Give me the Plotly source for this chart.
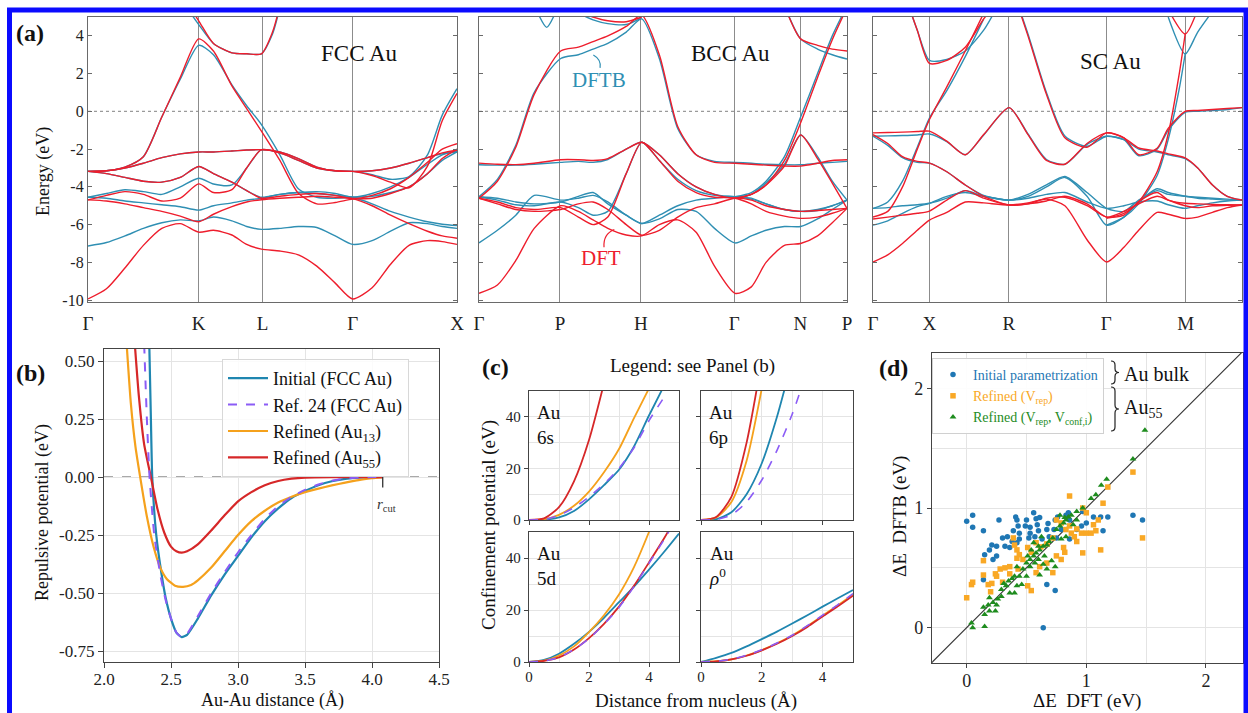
import plotly.graph_objects as go

W, H = 1248, 713
FONT = "Liberation Serif, Times New Roman, serif"


def fx(p):
    return p / W


def fy(p):
    return 1 - p / H


# ---------------- colours ----------------
DFT_RED = "#ee1d2c"
DFTB_BLUE = "#2f8fb3"
C_INIT = "#1f86b0"
C_REF = "#8b5cf6"
C_AU13 = "#f5a11c"
C_AU55 = "#d62728"
D_BLUE = "#1f77b4"
D_ORANGE = "#f9a825"
D_GREEN = "#1e8c1e"
FRAME_A = "#6a6a6a"
FRAME = "#444444"
GRID = "#e4e4e4"

# ---------------- panel (a): band structures ----------------
fcc_sym = [0, 0.2997, 0.4727, 0.7174, 1.0]
fcc_lab = ["Γ", "K", "L", "Γ", "X"]
fcc_k = [0, .05, .10, .15, .20, .25, .30, .34, .39, .43, .47, .52, .57, .62, .67, .717, .77, .82, .87, .92, .96, 1.0]
fcc_dft = [
    [-9.94, -9.4, -8.3, -7.1, -6.2, -5.95, -6.4, -6.3, -6.55, -7.05, -7.3, -7.4, -7.6, -8.2, -9.1, -9.94, -9.35, -8.1, -7.1, -6.85, -6.9, -7.05],
    [-4.69, -4.75, -4.9, -5.1, -5.3, -5.55, -5.85, -5.45, -5.05, -4.8, -4.68, -4.6, -4.55, -4.5, -4.55, -4.62, -5.0, -5.5, -5.95, -6.35, -6.6, -6.72],
    [-4.69, -4.45, -4.25, -4.4, -4.75, -4.6, -3.84, -4.3, -4.15, -3.0, -2.03, -2.2, -2.6, -3.0, -3.15, -3.18, -3.15, -3.0, -2.75, -2.45, -2.2, -2.06],
    [-3.18, -3.3, -3.5, -3.7, -3.75, -3.5, -2.92, -3.3, -3.75, -4.2, -4.6, -4.5, -4.4, -4.35, -4.45, -4.62, -4.45, -4.1, -3.5, -2.7, -2.0, -1.71],
    [-3.18, -3.15, -3.0, -2.75, -2.45, -2.25, -2.15, -2.15, -2.1, -2.05, -2.03, -2.15, -2.5, -2.95, -3.15, -3.18, -3.4, -3.75, -4.05, -2.9, -0.5, 0.95],
    [-3.18, -3.15, -2.95, -2.4, -0.3, 1.8, 3.84, 3.2, 1.35, 0.15, -1.05, -2.6, -4.34, -4.9, -4.83, -4.65, -4.6, -4.35, -4.0, -3.3, -2.5, -2.0],
]
fcc_dftb = [
    [-7.13, -6.95, -6.6, -6.2, -5.9, -5.75, -5.8, -5.6, -5.8, -6.1, -6.25, -6.2, -6.1, -6.15, -6.6, -7.05, -6.85, -6.35, -5.9, -5.95, -6.1, -6.2],
    [-4.55, -4.6, -4.75, -4.85, -4.95, -5.05, -5.23, -5.0, -4.85, -4.7, -4.6, -4.4, -4.3, -4.35, -4.45, -4.55, -4.9, -5.3, -5.6, -5.85, -5.98, -6.05],
    [-4.55, -4.35, -4.15, -4.25, -4.4, -4.0, -3.54, -3.85, -3.9, -3.0, -2.03, -2.2, -2.6, -3.0, -3.15, -3.18, -3.15, -3.0, -2.75, -2.45, -2.25, -2.15],
    [-3.18, -3.3, -3.5, -3.7, -3.75, -3.5, -2.92, -3.3, -3.75, -4.2, -4.55, -4.4, -4.3, -4.25, -4.35, -4.55, -4.35, -4.0, -3.5, -2.8, -2.3, -2.1],
    [-3.18, -3.15, -3.0, -2.75, -2.45, -2.25, -2.15, -2.15, -2.1, -2.05, -2.03, -2.15, -2.5, -2.95, -3.15, -3.18, -3.35, -3.6, -3.45, -2.3, -0.2, 1.2],
    [-3.18, -3.15, -2.95, -2.4, -0.3, 1.7, 3.5, 3.0, 1.4, 0.3, -0.7, -2.3, -4.1, -4.55, -4.6, -4.55, -4.5, -4.3, -4.0, -3.3, -2.6, -2.15],
]
fcc_up_k = [[0.25, 0.30, 0.34, 0.39, 0.43, 0.47, 0.50, 0.52]]
fcc_up_dft = [[6.3, 4.8, 3.6, 3.1, 3.05, 3.05, 4.2, 5.6]]
fcc_up_dftb = [[6.0, 4.6, 3.6, 3.1, 3.05, 3.05, 4.1, 5.5]]

bcc_sym = [0, 0.2199, 0.4398, 0.6937, 0.8731, 1.0]
bcc_lab = ["Γ", "P", "H", "Γ", "N", "P"]
bcc_k = [0, .05, .10, .15, .222, .27, .31, .35, .40, .442, .49, .54, .59, .64, .696, .74, .78, .83, .874, .92, .96, 1.0]
N14 = [None] * 14
bcc_dft = [
    [-9.64, -9.2, -7.9, -6.2, -5.0, -5.3, -5.75, -6.2, -6.55, -6.6, -6.0, -5.75, -6.4, -8.2, -9.64, -9.3, -8.0, -7.1, -7.0, -6.6, -5.9, -5.14],
    [-4.6, -3.7, -1.9, 0.9, 3.2, 3.4, 3.7, 4.0, 4.5, 5.1, 3.0, -0.8, -2.3, -2.7, -2.75, -2.8, -2.85, -2.9, -2.9, -2.75, -2.6, -2.56],
    [-2.74, -2.8, -2.82, -2.75, -2.56, -2.56, -2.6, -2.5, -2.0, -1.64, -2.3, -3.3, -4.0, -4.4, -4.6, -4.4, -3.9, -2.9, -1.25, -2.5, -3.8, -5.14],
    [-4.6, -4.8, -5.1, -5.2, -5.1, -5.6, -6.0, -5.6, -3.3, -1.64, -2.6, -3.7, -4.3, -4.55, -4.6, -4.9, -5.3, -5.55, -5.67, -5.6, -5.4, -5.14],
    [-4.6, -4.9, -5.2, -5.3, -5.2, -4.9, -4.8, -5.2, -6.0, -6.56, -6.3, -5.6, -5.1, -4.9, -4.6, -4.7, -5.0, -5.2, -5.3, -5.25, -5.2, -5.14],
    N14 + [-4.6, -4.4, -3.9, -2.6, -0.6, 1.8, 3.8, 5.5],
]
bcc_dftb = [
    [-6.97, -6.3, -5.5, -4.45, -4.7, -4.6, -4.45, -4.8, -5.5, -5.94, -5.7, -5.2, -5.3, -6.2, -6.97, -6.6, -6.3, -6.1, -6.1, -5.7, -5.2, -4.7],
    [-4.52, -3.6, -1.8, 1.0, 2.8, 3.0, 3.3, 3.6, 4.2, 4.9, 2.8, -0.9, -2.3, -2.65, -2.7, -2.75, -2.8, -2.83, -2.83, -2.75, -2.7, -2.65],
    [-2.83, -2.85, -2.85, -2.8, -2.7, -2.65, -2.7, -2.55, -2.0, -1.64, -2.3, -3.3, -4.0, -4.4, -4.52, -4.4, -3.8, -2.8, -1.25, -2.4, -3.7, -4.7],
    [-4.52, -4.7, -4.95, -5.0, -4.8, -5.1, -5.5, -5.3, -3.3, -1.64, -2.6, -3.6, -4.2, -4.45, -4.52, -4.6, -4.9, -5.2, -5.3, -5.2, -5.0, -4.7],
    [-4.52, -4.6, -4.8, -4.9, -4.8, -4.5, -4.3, -4.9, -5.5, -5.94, -5.5, -5.0, -4.7, -4.6, -4.52, -4.65, -4.9, -5.2, -5.3, -5.25, -5.0, -4.7],
    N14 + [-4.52, -4.3, -3.7, -2.4, -0.3, 2.0, 4.0, 5.6],
]
bcc_up_k = [[.83, .874, .92, .96, 1.0], [.27, .31, .35, .40, .442], [.16, .184, .207]]
bcc_up_dft = [[5.6, 3.84, 3.5, 3.3, 3.2], [5.3, 5.0, 4.8, 4.75, 5.0], [None, None, None]]
bcc_up_dftb = [[5.6, 3.84, 3.3, 3.0, 2.77], [5.2, 4.85, 4.65, 4.6, 4.95], [5.2, 4.45, 5.2]]

sc_sym = [0, 0.1524, 0.3680, 0.6320, 0.8476, 1.0]
sc_lab = ["Γ", "X", "R", "Γ", "M", "R"]
sc_k = [0, .04, .08, .12, .153, .20, .25, .30, .369, .42, .47, .52, .58, .633, .68, .72, .77, .80, .846, .88, .92, .96, 1.0]
N8 = [None] * 8
N15 = [None] * 15
sc_dft = [
    [-7.98, -7.6, -7.0, -6.3, -5.76, -5.35, -4.8, -4.85, -4.96, -4.85, -4.65, -5.0, -6.8, -7.98, -7.2, -6.3, -5.35, -5.45, -5.67, -5.6, -5.35, -5.1, -4.96],
    [-5.6, -5.3, -4.0, -2.0, -0.43, 1.3, 3.2, 5.2] + N15,
    N8 + [7.0, 4.0, 0.9, -1.4, -1.9, -1.14, -1.4, -2.3, -1.95, -0.9, 0.0, 0.05, 0.1, 0.15, 0.2],
    [-1.14, -1.12, -1.1, -1.07, -1.05, -1.58, -2.3, -1.23, 0.2, -1.23, -2.6, -2.8, -1.7, -1.14, -1.4, -1.94, -2.1, -2.25, -2.47, -3.0, -3.9, -4.5, -4.7],
    [-1.23, -1.7, -2.4, -2.65, -2.74, -3.2, -3.9, -4.5, -4.96, -4.9, -4.75, -4.5, -4.9, -5.6, -5.5, -4.78, -4.3, -4.7, -4.87, -4.9, -4.93, -4.95, -4.96],
    [-5.7, -5.6, -5.5, -5.4, -5.28, -4.7, -4.2, -4.6, -4.96, -4.9, -4.6, -4.55, -5.0, -5.6, -5.3, -4.9, -4.5, -4.7, -5.0, -5.1, -5.0, -4.98, -4.96],
]
sc_dftb = [
    [-6.03, -5.8, -5.4, -5.05, -4.87, -4.5, -4.3, -4.5, -4.7, -4.5, -4.0, -3.5, -4.5, -6.03, -5.6, -4.8, -4.1, -4.3, -4.5, -4.6, -4.65, -4.7, -4.7],
    [-5.14, -5.1, -5.0, -4.95, -4.87, -4.6, -4.2, -4.5, -4.7, -4.6, -4.4, -4.3, -4.8, -5.14, -5.0, -4.8, -4.75, -4.95, -5.14, -5.0, -4.85, -4.75, -4.7],
    [-5.14, -4.8, -3.7, -1.9, -0.35, 1.1, 2.9, 4.9] + N15,
    [-1.32, -1.3, -1.28, -1.25, -1.2, -1.6, -2.3, -1.25, 0.2, -1.2, -2.55, -2.8, -1.75, -1.32, -1.5, -2.0, -2.15, -2.3, -2.5, -3.0, -3.9, -4.5, -4.7],
    [-1.32, -1.8, -2.45, -2.7, -2.74, -3.2, -3.9, -4.45, -4.7, -4.4, -3.9, -3.45, -4.3, -5.14, -5.3, -4.7, -4.2, -4.4, -4.5, -4.55, -4.6, -4.65, -4.7],
    N8 + [7.0, 4.1, 1.0, -1.3, -1.85, -1.32, -1.5, -2.35, -2.0, -1.0, -0.05, 0.0, 0.05, 0.1, 0.2],
]
sc_up_k = [[.10, .12, .153, .20, .25, .30, .33], [.80, .846, .88, .92], [.633, .68, .72, .77, .80, .83, .846]]
sc_up_dft = [[5.4, 4.3, 2.54, 2.7, 3.4, 4.9, 5.6], [5.4, 4.1, 5.4, None], [-5.67, -5.4, -4.8, -3.2, -1.2, 2.0, 4.1]]
sc_up_dftb = [[5.4, 4.3, 2.7, 2.75, 3.2, 4.3, 5.3], [5.0, 3.04, 4.2, 5.3], [-6.03, -5.6, -4.9, -3.4, -1.5, 1.2, 3.04]]

energy_ticks = [-10, -8, -6, -4, -2, 0, 2, 4]

# ---------------- panel (b): repulsive potentials ----------------
b_init_x = [2.335, 2.35, 2.36, 2.39, 2.43, 2.46, 2.50, 2.54, 2.58, 2.62, 2.70, 2.80, 2.90, 3.00, 3.10, 3.20, 3.30, 3.40, 3.50, 3.60, 3.70, 3.80, 3.90, 4.00, 4.08]
b_init_y = [0.65, 0.25, 0.00, -0.25, -0.42, -0.52, -0.61, -0.67, -0.69, -0.68, -0.61, -0.51, -0.42, -0.34, -0.26, -0.19, -0.135, -0.09, -0.06, -0.035, -0.018, -0.008, -0.002, 0.0, 0.0]
b_ref_x = [2.295, 2.32, 2.34, 2.375, 2.42, 2.46, 2.50, 2.54, 2.58, 2.62, 2.70, 2.80, 2.90, 3.00, 3.10, 3.20, 3.30, 3.40, 3.50, 3.60, 3.70, 3.80, 3.90, 4.00, 4.08]
b_ref_y = [0.65, 0.25, 0.00, -0.25, -0.42, -0.53, -0.61, -0.67, -0.69, -0.675, -0.60, -0.50, -0.41, -0.325, -0.25, -0.18, -0.125, -0.085, -0.055, -0.032, -0.016, -0.007, -0.002, 0.0, 0.0]
b_au13_x = [2.16, 2.20, 2.235, 2.27, 2.32, 2.37, 2.42, 2.47, 2.53, 2.59, 2.65, 2.70, 2.80, 2.90, 3.00, 3.10, 3.20, 3.30, 3.40, 3.50, 3.60, 3.70, 3.80, 3.90, 4.00, 4.08]
b_au13_y = [0.65, 0.32, 0.13, 0.0, -0.17, -0.30, -0.39, -0.44, -0.468, -0.473, -0.465, -0.445, -0.39, -0.32, -0.25, -0.19, -0.145, -0.11, -0.085, -0.065, -0.05, -0.036, -0.024, -0.013, -0.005, 0.0]
b_au55_x = [2.22, 2.26, 2.30, 2.35, 2.40, 2.45, 2.50, 2.54, 2.58, 2.62, 2.70, 2.80, 2.90, 3.00, 3.10, 3.20, 3.30, 3.40, 3.50, 3.70, 4.08]
b_au55_y = [0.65, 0.35, 0.14, 0.0, -0.14, -0.24, -0.30, -0.32, -0.326, -0.32, -0.29, -0.23, -0.165, -0.105, -0.065, -0.035, -0.017, -0.007, -0.002, 0.0, 0.0]
r_cut = 4.08
b_xticks = [2.0, 2.5, 3.0, 3.5, 4.0, 4.5]
b_yticks = [-0.75, -0.50, -0.25, 0.00, 0.25, 0.50]

# ---------------- panel (c): confinement potentials ----------------
c_r = [0, 0.5, 1, 1.5, 2, 2.5, 3, 3.5, 4, 4.5, 5]
c6s_init = [0, 0.1, 1.0, 3.5, 8, 13.5, 19.5, 28.5, 40.5, 52, None]
c6s_ref = [0, 0.2, 1.8, 4.8, 9, 14, 20, 28, 38.5, 47.5, None]
c6s_au13 = [0, 0.3, 2.0, 5.5, 11, 18.5, 27.5, 39.5, 51, None, None]
c6s_au55 = [0, 0.6, 5, 15, 31, 53, None, None, None, None, None]
c6p_init = [0, 0.3, 3, 10, 22, 40, 62, None, None, None, None]
c6p_ref = [0, 0.2, 2, 7, 15.5, 27, 41, 58, None, None, None]
c6p_au13 = [0, 1.0, 7, 23, 51, None, None, None, None, None, None]
c6p_au55 = [0, 1.2, 9, 30, 62, None, None, None, None, None, None]
c5d_init = [0, 0.8, 3.2, 7, 11.6, 17, 23, 29, 35.5, 42.3, 49.4]
c5d_ref = [0, 0.4, 1.8, 4.8, 9, 14.5, 21, 29, 38, 47, 57]
c5d_au13 = [0, 0.5, 2.5, 6, 11.5, 18, 26, 36.5, 50, 65, None]
c5d_au55 = [0, 0.4, 1.8, 4.8, 9.2, 14.7, 21.3, 29.3, 38.3, 47.5, 57.5]
crho_init = [0, 1.6, 3.5, 6.0, 8.8, 11.7, 14.8, 18.0, 21.3, 24.5, 27.7]
crho_ref = [0, 0.3, 1.1, 2.6, 4.7, 7.3, 10.3, 14, 18, 22, 26.3]
crho_au13 = [0, 0.3, 1.0, 2.5, 4.6, 7.2, 10.2, 13.8, 17.8, 21.8, 26.0]
crho_au55 = [0, 0.25, 1.0, 2.4, 4.5, 7.0, 10.0, 13.5, 17.5, 21.4, 25.5]

# ---------------- panel (d): scatter ----------------
d_init_x = [0.0, 0.05, 0.05, 0.14, 0.27, 0.41, 0.42, 0.5, 0.58, 0.61, 0.43, 0.49, 0.53, 0.59, 0.68, 0.74, 0.76, 0.83, 0.86, 0.97,
            1.06, 1.12, 1.18, 1.39, 1.47, 0.39, 0.44, 0.53, 0.6, 0.67, 0.73, 0.79, 0.92, 0.96, 1.14, 0.3, 0.34, 0.38, 0.44, 0.52,
            0.57, 0.21, 0.25, 0.32, 0.36, 0.42, 0.19, 0.25, 0.15, 0.22, 0.63, 0.69, 0.75, 0.86, 0.14, 0.67, 0.74, 0.64, 0.85, 1.0, 0.56]
d_init_y = [0.89, 0.94, 0.84, 0.81, 0.90, 0.925, 0.90, 0.90, 0.91, 0.92, 0.85, 0.85, 0.84, 0.86, 0.87, 0.90, 0.925, 0.94, 0.90, 0.97,
            0.925, 0.925, 0.925, 0.94, 0.90, 0.81, 0.79, 0.79, 0.81, 0.82, 0.82, 0.82, 0.82, 0.85, 0.81, 0.75, 0.76, 0.72, 0.74, 0.75,
            0.76, 0.69, 0.68, 0.68, 0.67, 0.71, 0.65, 0.60, 0.61, 0.57, 0.74, 0.76, 0.75, 0.74, 0.40, 0.36, 0.31, 0.0, 0.96, 0.875, 0.96]
d_vrep_x = [0, 0.04, 0.05, 0.14, 0.14, 0.18, 0.21, 0.2, 0.24, 0.28, 0.32, 0.36, 0.25, 0.39, 0.4, 0.42, 0.44, 0.42, 0.47, 0.51,
            0.54, 0.58, 0.62, 0.67, 0.72, 0.75, 0.79, 0.83, 0.86, 0.875, 0.9, 0.92, 0.86, 0.97, 1.0, 0.96, 1.0, 1.04, 1.08, 1.06,
            1.14, 1.18, 1.39, 1.47, 1.12, 0.97, 0.82, 0.79, 0.72, 0.58, 0.51, 0.54, 0.43, 0.36, 0.3, 0.67, 0.75, 0.81, 0.61, 0.92, 1.1]
d_vrep_y = [0.25, 0.36, 0.38, 0.56, 0.44, 0.36, 0.37, 0.30, 0.45, 0.49, 0.5, 0.51, 0.43, 0.75, 0.69, 0.65, 0.61, 0.58, 0.57, 0.67,
            0.63, 0.71, 0.675, 0.70, 0.75, 0.90, 0.875, 0.82, 0.85, 0.79, 0.76, 0.72, 1.10, 1.0, 0.96, 0.79, 0.79, 0.79, 0.81, 0.86,
            1.04, 1.175, 1.30, 0.75, 0.65, 0.625, 0.63, 0.57, 0.46, 0.46, 0.35, 0.31, 0.49, 0.45, 0.38, 0.54, 0.60, 0.67, 0.51, 0.825, 0.9]
d_conf_x = [0.04, 0.05, 0.15, 0.14, 0.18, 0.22, 0.26, 0.29, 0.15, 0.19, 0.25, 0.31, 0.35, 0.38, 0.4, 0.33, 0.42, 0.44, 0.47, 0.5,
            0.53, 0.56, 0.58, 0.61, 0.64, 0.67, 0.69, 0.72, 0.75, 0.78, 0.81, 0.83, 0.85, 0.875, 0.92, 0.97, 1.04, 1.08, 1.125, 1.17,
            1.39, 1.49, 0.53, 0.57, 0.6, 0.64, 0.65, 0.51, 0.54, 0.6, 0.74, 0.71, 0.67, 0.61, 0.5, 0.46, 0.36, 0.29, 0.78, 0.82,
            0.92, 0.89, 0.83, 0.79, 0.19, 0.24, 0.42, 0.40, 0.56, 0.625]
d_conf_y = [0.04, 0.0, 0.01, 0.17, 0.19, 0.21, 0.24, 0.26, 0.11, 0.14, 0.19, 0.37, 0.39, 0.41, 0.43, 0.35, 0.35, 0.43, 0.49, 0.54,
            0.57, 0.6, 0.625, 0.65, 0.68, 0.69, 0.72, 0.75, 0.82, 0.85, 0.875, 0.90, 0.925, 0.94, 0.97, 1.0, 1.08, 1.11, 1.19, 1.24,
            1.41, 1.65, 0.51, 0.54, 0.57, 0.53, 0.60, 0.6, 0.65, 0.68, 0.51, 0.56, 0.49, 0.44, 0.43, 0.36, 0.29, 0.32, 0.94, 0.92,
            0.90, 0.86, 0.76, 0.74, 0.25, 0.14, 0.51, 0.29, 0.71, 0.76]
d_diag = [-0.3, 2.35]

fig = go.Figure()


def add_line(x, y, color, xa, ya, width=1.4, dash="solid", name=None, legend=None, rank=None, smooth=0.7):
    fig.add_trace(go.Scatter(
        x=x, y=y, mode="lines", name=name,
        line=dict(color=color, width=width, dash=dash, shape="spline", smoothing=smooth),
        xaxis=xa, yaxis=ya, showlegend=name is not None, legend=legend or "legend",
        legendrank=rank if rank else 1000, hoverinfo="skip", connectgaps=False))


# band structures: DFTB first, DFT on top
panels = [
    ("x", "y", fcc_k, fcc_dft, fcc_dftb, fcc_up_k, fcc_up_dft, fcc_up_dftb),
    ("x2", "y2", bcc_k, bcc_dft, bcc_dftb, bcc_up_k, bcc_up_dft, bcc_up_dftb),
    ("x3", "y3", sc_k, sc_dft, sc_dftb, sc_up_k, sc_up_dft, sc_up_dftb),
]
for xa, ya, k, dft, dftb, uk, udft, udftb in panels:
    for e in dftb:
        add_line(k, e, DFTB_BLUE, xa, ya)
    for kk, e in zip(uk, udftb):
        add_line(kk, e, DFTB_BLUE, xa, ya)
    for e in dft:
        add_line(k, e, DFT_RED, xa, ya)
    for kk, e in zip(uk, udft):
        add_line(kk, e, DFT_RED, xa, ya)

# panel (b)
add_line(b_init_x, b_init_y, C_INIT, "x4", "y4", width=2.2, name="Initial (FCC Au)", rank=1, smooth=0.5)
add_line(b_au13_x, b_au13_y, C_AU13, "x4", "y4", width=2.2, name="Refined (Au<sub>13</sub>)", rank=3, smooth=0.5)
add_line(b_au55_x, b_au55_y, C_AU55, "x4", "y4", width=2.2, name="Refined (Au<sub>55</sub>)", rank=4, smooth=0.5)
add_line(b_ref_x, b_ref_y, C_REF, "x4", "y4", width=2.0, dash="dash", name="Ref. 24 (FCC Au)", rank=2, smooth=0.5)

# panel (c)
c_sets = [
    ("x5", "y5", c6s_init, c6s_ref, c6s_au13, c6s_au55),
    ("x6", "y6", c6p_init, c6p_ref, c6p_au13, c6p_au55),
    ("x7", "y7", c5d_init, c5d_ref, c5d_au13, c5d_au55),
    ("x8", "y8", crho_init, crho_ref, crho_au13, crho_au55),
]
for xa, ya, vi, vr, v13, v55 in c_sets:
    add_line(c_r, vi, C_INIT, xa, ya, width=1.8)
    add_line(c_r, v13, C_AU13, xa, ya, width=1.8)
    add_line(c_r, v55, C_AU55, xa, ya, width=1.8)
    add_line(c_r, vr, C_REF, xa, ya, width=1.6, dash="dash")

# panel (d)
fig.add_trace(go.Scatter(x=d_diag, y=d_diag, mode="lines", line=dict(color="#333", width=1.1),
                         xaxis="x9", yaxis="y9", showlegend=False, hoverinfo="skip"))
fig.add_trace(go.Scatter(x=d_init_x, y=d_init_y, mode="markers", xaxis="x9", yaxis="y9",
                         marker=dict(color=D_BLUE, size=5.5, symbol="circle"),
                         name=f'<span style="color:{D_BLUE}">Initial parametrization</span>', legend="legend2"))
fig.add_trace(go.Scatter(x=d_vrep_x, y=d_vrep_y, mode="markers", xaxis="x9", yaxis="y9",
                         marker=dict(color=D_ORANGE, size=5.5, symbol="square"),
                         name=f'<span style="color:{D_ORANGE}">Refined (V<sub>rep</sub>)</span>', legend="legend2"))
fig.add_trace(go.Scatter(x=d_conf_x, y=d_conf_y, mode="markers", xaxis="x9", yaxis="y9",
                         marker=dict(color=D_GREEN, size=6, symbol="triangle-up"),
                         name=f'<span style="color:{D_GREEN}">Refined (V<sub>rep</sub>, V<sub>conf,i</sub>)</span>', legend="legend2"))

# ---------------- axes ----------------
layout = {}
band_dom_y = [fy(302), fy(17)]
band_x = [(88, 457, fcc_sym, fcc_lab), (479, 847, bcc_sym, bcc_lab), (873, 1242, sc_sym, sc_lab)]
for i, (l, r, sym, lab) in enumerate(band_x):
    sfx = "" if i == 0 else str(i + 1)
    layout["xaxis" + sfx] = dict(
        domain=[fx(l), fx(r)], range=[0, 1], anchor="y" + sfx, tickvals=sym, ticktext=lab,
        showgrid=True, gridcolor="#8c8c8c", gridwidth=1, ticks="", showline=True, linecolor=FRAME_A,
        linewidth=1.2, mirror=True, zeroline=False, ticklabelstandoff=4,
        tickfont=dict(family=FONT, size=19, color="#222"))
    layout["yaxis" + sfx] = dict(
        domain=band_dom_y, range=[-10.1, 5.0], anchor="x" + sfx, tickvals=energy_ticks,
        ticktext=[str(v) for v in energy_ticks], showticklabels=(i == 0), ticks="inside", ticklen=4,
        tickcolor=FRAME_A, showgrid=False, showline=True, linecolor=FRAME_A, linewidth=1.2, mirror="ticks",
        zeroline=False, tickfont=dict(family=FONT, size=16, color="#222"))

# (b)
layout["xaxis4"] = dict(domain=[fx(104), fx(439)], range=[2.0, 4.5], anchor="y4", tickvals=b_xticks,
                        ticktext=[f"{v:.1f}" for v in b_xticks], ticks="outside", ticklen=5, tickcolor=FRAME,
                        showgrid=True, gridcolor=GRID, showline=True, linecolor=FRAME, linewidth=1.3, mirror=True,
                        zeroline=False, ticklabelstandoff=-4, tickfont=dict(family=FONT, size=17, color="#222"))
layout["yaxis4"] = dict(domain=[fy(662), fy(349)], range=[-0.797, 0.552], anchor="x4", tickvals=b_yticks,
                        ticktext=[f"{v:.2f}" for v in b_yticks], ticks="outside", ticklen=5, tickcolor=FRAME,
                        showgrid=True, gridcolor=GRID, showline=True, linecolor=FRAME, linewidth=1.3, mirror=True,
                        zeroline=False, tickfont=dict(family=FONT, size=17, color="#222"))

# (c)
c_boxes = [(529, 679, 391, 520), (701, 853, 391, 520), (529, 679, 532, 662), (701, 853, 532, 662)]
for j, (l, r, t, b) in enumerate(c_boxes):
    n = str(5 + j)
    layout["xaxis" + n] = dict(domain=[fx(l), fx(r)], range=[0, 5], anchor="y" + n, tickvals=[0, 2, 4],
                               showticklabels=(j >= 2), ticks="outside", ticklen=4, tickcolor=FRAME,
                               showgrid=True, gridcolor=GRID, minor=dict(dtick=1, showgrid=True, gridcolor=GRID),
                               showline=True, linecolor=FRAME, linewidth=1.3, mirror=True, zeroline=False,
                               ticklabelstandoff=-3, tickfont=dict(family=FONT, size=15, color="#222"))
    layout["yaxis" + n] = dict(domain=[fy(b), fy(t)], range=[0, 50], anchor="x" + n, tickvals=[0, 20, 40],
                               showticklabels=(j % 2 == 0), ticks="outside", ticklen=4, tickcolor=FRAME,
                               showgrid=True, gridcolor=GRID, minor=dict(dtick=10, showgrid=True, gridcolor=GRID),
                               showline=True, linecolor=FRAME, linewidth=1.3, mirror=True, zeroline=False,
                               tickfont=dict(family=FONT, size=15, color="#222"))

# (d)
layout["xaxis9"] = dict(domain=[fx(932), fx(1243)], range=[-0.29, 2.31], anchor="y9", tickvals=[0, 1, 2],
                        ticks="outside", ticklen=4, tickcolor=FRAME, showgrid=True, gridcolor=GRID,
                        minor=dict(dtick=0.5, showgrid=True, gridcolor=GRID),
                        showline=True, linecolor=FRAME, linewidth=1.3, mirror=True, zeroline=False,
                        ticklabelstandoff=-3, tickfont=dict(family=FONT, size=18, color="#222"))
layout["yaxis9"] = dict(domain=[fy(663), fy(353)], range=[-0.295, 2.295], anchor="x9", tickvals=[0, 1, 2],
                        ticks="outside", ticklen=4, tickcolor=FRAME, showgrid=True, gridcolor=GRID,
                        minor=dict(dtick=0.5, showgrid=True, gridcolor=GRID),
                        showline=True, linecolor=FRAME, linewidth=1.3, mirror=True, zeroline=False,
                        tickfont=dict(family=FONT, size=18, color="#222"))

# ---------------- shapes ----------------
shapes = []
for sfx in ["", "2", "3"]:
    shapes.append(dict(type="line", xref=f"x{sfx} domain", x0=0, x1=1, yref=f"y{sfx}", y0=0, y1=0,
                       line=dict(color="#9a9a9a", width=1.2, dash="dot"), layer="below"))
shapes.append(dict(type="line", xref="x4 domain", x0=0, x1=1, yref="y4", y0=0, y1=0,
                   line=dict(color="#555", width=1.3, dash="dash"), layer="below"))
shapes.append(dict(type="line", xref="x4", x0=r_cut, x1=r_cut, yref="y4", y0=0, y1=-0.045,
                   line=dict(color="#333", width=1.3)))
shapes.append(dict(type="path", xref="x2", yref="y2", path="M 0.3107,2.99 Q 0.333,2.75 0.329,2.3",
                   line=dict(color=DFTB_BLUE, width=1.2)))
shapes.append(dict(type="path", xref="x2", yref="y2", path="M 0.3677,-6.26 Q 0.337,-6.5 0.3397,-7.2",
                   line=dict(color=DFT_RED, width=1.2)))


def brace(xl, xr, yt, yb):
    xm = (xl + xr) / 2
    ym = (yt + yb) / 2
    pts = [("M", [(xl, yt)]), ("Q", [(xm, yt), (xm, yt + 4)]), ("L", [(xm, ym - 4)]),
           ("Q", [(xm, ym), (xr, ym)]), ("Q", [(xm, ym), (xm, ym + 4)]), ("L", [(xm, yb - 4)]),
           ("Q", [(xm, yb), (xl, yb)])]
    s = ""
    for cmd, pp in pts:
        s += cmd + " " + " ".join(f"{fx(a):.5f},{fy(b):.5f}" for a, b in pp) + " "
    return dict(type="path", xref="paper", yref="paper", path=s.strip(), line=dict(color="#222", width=1.2))


shapes.append(brace(1111, 1119, 361, 384))
shapes.append(brace(1111, 1119, 387, 431))
# blue frame around figure
shapes.append(dict(type="rect", xref="paper", yref="paper", x0=fx(9.5), x1=fx(1246), y0=fy(717), y1=fy(10),
                   line=dict(color="#0b0bff", width=5), fillcolor="rgba(0,0,0,0)"))


# ---------------- annotations ----------------
def ann(text, x, y, size, color="#111", xanchor="center", yanchor="middle", angle=0, align="center"):
    return dict(text=text, x=fx(x), y=fy(y), xref="paper", yref="paper", showarrow=False,
                font=dict(family=FONT, size=size, color=color), xanchor=xanchor, yanchor=yanchor,
                textangle=angle, align=align)


anns = [
    ann("<b>(a)</b>", 30, 33, 24),
    ann("<b>(b)</b>", 31, 373, 24),
    ann("<b>(c)</b>", 496, 367, 24),
    ann("<b>(d)</b>", 893, 368, 24),
    ann("FCC Au", 360, 53, 23),
    ann("BCC Au", 730, 53, 23),
    ann("SC Au", 1110, 61, 23),
    ann("DFTB", 599, 80, 21, color=DFTB_BLUE),
    ann("DFT", 601, 258, 21, color=DFT_RED),
    ann("Energy (eV)", 43, 172, 18, angle=-90),
    ann("Repulsive potential (eV)", 42, 513, 18, angle=-90),
    ann("Au-Au distance (Å)", 272, 700, 18),
    ann("<i>r</i><sub>cut</sub>", 386, 505, 15, color="#333"),
    ann("Legend: see Panel (b)", 692, 366, 19),
    ann("Confinement potential (eV)", 489, 525, 19, angle=-90),
    ann("Distance from nucleus (Å)", 696, 701, 19),
    ann("Au<br>6s", 535, 400, 19, xanchor="left", yanchor="top", align="left"),
    ann("Au<br>6p", 707, 400, 19, xanchor="left", yanchor="top", align="left"),
    ann("Au<br>5d", 535, 541, 19, xanchor="left", yanchor="top", align="left"),
    ann("Au<br><i>ρ</i><sup>0</sup>", 707, 541, 19, xanchor="left", yanchor="top", align="left"),
    ann("ΔE  DFTB (eV)", 900, 517, 19, angle=-90),
    ann("ΔE  DFT (eV)", 1087, 701, 19),
    ann("Au bulk", 1122, 374, 20, xanchor="left"),
    ann("Au<sub>55</sub>", 1122, 408, 20, xanchor="left"),
]

fig.update_layout(
    width=W, height=H, margin=dict(l=0, r=0, t=0, b=0), template="none",
    paper_bgcolor="white", plot_bgcolor="white",
    font=dict(family=FONT, size=15, color="#111"),
    shapes=shapes, annotations=anns, showlegend=True,
    legend=dict(x=fx(222), y=fy(359), xanchor="left", yanchor="top", bgcolor="rgba(255,255,255,0.85)",
                bordercolor="#d8d8d8", borderwidth=1, itemwidth=40, traceorder="normal",
                font=dict(family=FONT, size=18, color="#111")),
    legend2=dict(x=fx(932), y=fy(358), xanchor="left", yanchor="top", bgcolor="rgba(255,255,255,0.9)",
                 bordercolor="#d0d0d0", borderwidth=1, itemwidth=30,
                 font=dict(family=FONT, size=14, color="#111")),
    **layout,
)

fig.write_html("out.html", config={"displayModeBar": False},
               post_script="document.body.style.margin='0px';document.body.style.overflow='hidden';")
